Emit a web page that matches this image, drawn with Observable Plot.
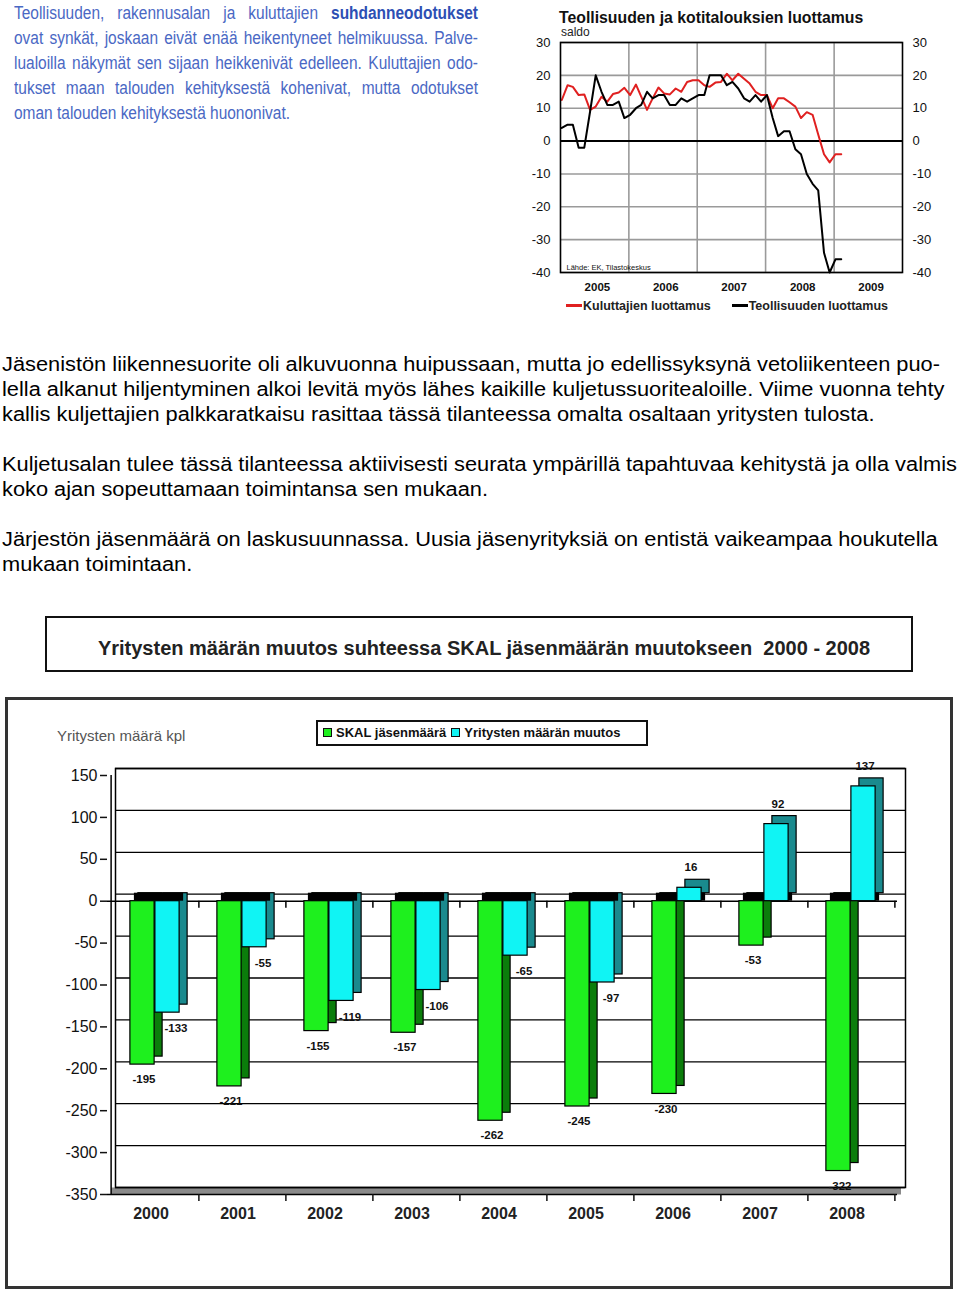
<!DOCTYPE html>
<html><head><meta charset="utf-8">
<script src="https://cdn.jsdelivr.net/npm/d3@7"></script>
<script src="https://cdn.jsdelivr.net/npm/@observablehq/plot@0.6"></script>
<style>
html,body{margin:0;padding:0;background:#fff}
body{width:960px;height:1292px;position:relative;overflow:hidden;font-family:"Liberation Sans",Arial,sans-serif}
.abs{position:absolute}
#intro{left:14px;top:1px;width:525px;transform:scaleX(0.8838);transform-origin:0 0;font-family:"Liberation Sans",Arial,sans-serif;font-size:17.5px;line-height:25px;color:#4a68c4}
#intro div{text-align:justify;text-align-last:justify;white-space:nowrap}
#intro div.last{text-align-last:left}
#intro b{color:#2d4fb4}
.para{left:2px;font-size:19.5px;line-height:25px;color:#000;white-space:nowrap;transform:scaleX(1.118);transform-origin:0 0}
#lcTitle{left:559px;top:9px;font-size:15.8px;font-weight:bold;color:#111;white-space:nowrap}
#lcSub{left:561px;top:25px;font-size:12px;color:#222}
#lcLegend{left:566px;top:299px;font-size:12.5px;font-weight:bold;color:#222;white-space:nowrap}
#lcLegend span.sw{display:inline-block;width:16px;height:2.5px;vertical-align:middle;margin-right:1px;position:relative;top:-1px}
#titleBox{left:45px;top:616px;width:864px;height:52px;border:2px solid #111;text-align:center;line-height:60px;font-size:20px;font-weight:bold;color:#222;white-space:nowrap}
#titleBox span{position:relative;left:5px}
#frame{left:5px;top:697px;width:942px;height:586px;border:3px solid #333}
#ylab{left:57px;top:727px;font-size:15px;color:#555}
#legend{left:316px;top:720px;width:328px;height:22px;border:2px solid #111;font-size:13px;font-weight:bold;color:#111;line-height:22px;white-space:nowrap;background:#fff}
#legend .sq{display:inline-block;width:7px;height:7px;border:1px solid #111;margin:0 4px 0 5px;position:relative;top:0px}
</style></head><body>

<div id="intro" class="abs">
<div>Teollisuuden, rakennusalan ja kuluttajien <b>suhdanneodotukset</b></div>
<div>ovat synkät, joskaan eivät enää heikentyneet helmikuussa. Palve-</div>
<div>lualoilla näkymät sen sijaan heikkenivät edelleen. Kuluttajien odo-</div>
<div>tukset maan talouden kehityksestä kohenivat, mutta odotukset</div>
<div class="last">oman talouden kehityksestä huononivat.</div>
</div>

<div id="lcTitle" class="abs">Teollisuuden ja kotitalouksien luottamus</div>
<div id="lcSub" class="abs">saldo</div>
<div id="lc" class="abs" style="left:520px;top:0px"></div>
<div id="lcLegend" class="abs"><span class="sw" style="background:#e02020"></span>Kuluttajien luottamus&nbsp;&nbsp;&nbsp;&nbsp;&nbsp;&nbsp;<span class="sw" style="background:#000"></span>Teollisuuden luottamus</div>

<div class="abs para" style="top:352px">Jäsenistön liikennesuorite oli alkuvuonna huipussaan, mutta jo edellissyksynä vetoliikenteen puo-<br>lella alkanut hiljentyminen alkoi levitä myös lähes kaikille kuljetussuoritealoille. Viime vuonna tehty<br>kallis kuljettajien palkkaratkaisu rasittaa tässä tilanteessa omalta osaltaan yritysten tulosta.</div>
<div class="abs para" style="top:452px">Kuljetusalan tulee tässä tilanteessa aktiivisesti seurata ympärillä tapahtuvaa kehitystä ja olla valmis<br>koko ajan sopeuttamaan toimintansa sen mukaan.</div>
<div class="abs para" style="top:527px">Järjestön jäsenmäärä on laskusuunnassa. Uusia jäsenyrityksiä on entistä vaikeampaa houkutella<br>mukaan toimintaan.</div>

<div id="titleBox" class="abs"><span>Yritysten määrän muutos suhteessa SKAL jäsenmäärän muutokseen&nbsp; 2000 - 2008</span></div>

<div id="frame" class="abs"></div>
<div id="bc" class="abs" style="left:0px;top:697px"></div>
<div id="ylab" class="abs">Yritysten määrä kpl</div>
<div id="legend" class="abs"><span class="sq" style="background:#1ef01e"></span>SKAL jäsenmäärä<span class="sq" style="background:#10f4f4"></span>Yritysten määrän muutos</div>

<script>
// ---------- Line chart data (monthly, Jan 2005 – Feb 2009) ----------
const lcStart = "2005-01-01";
const kuluttajat = [12.5,17,16.5,14,14.2,9.5,10.5,13.5,12,14.3,14.8,16.2,14,17.2,13.5,9.5,13,16.3,14.5,14.2,16,15,18,18.5,18.5,17,16.5,17.8,18,20.5,18.5,20.5,19,17.5,15,14,14,10,13,13,11.8,10.5,7,8.8,8,2,-4,-6.5,-4,-4];
const teollisuus = [4,5,5,-2,-2,9,20,15,11,11,12,7,8,10,11,15,13,14,14,11,11,13,12,13,14,14,20,20,20,17,18,16,13,12,14,12,14,7,1.5,3,3,-2.5,-4,-10,-13,-15,-34,-40,-36,-36];
const lcYears = [2005,2006,2007,2008,2009];
const lcTicks = [30,20,10,0,-10,-20,-30,-40];

// ---------- Bar chart data ----------
const years = [2000,2001,2002,2003,2004,2005,2006,2007,2008];
const skal = [-195,-221,-155,-157,-262,-245,-230,-53,-322];
const firms = [-133,-55,-119,-106,-65,-97,16,92,137];
const yTicks = [150,100,50,0,-50,-100,-150,-200,-250,-300,-350];

const font = "Liberation Sans, Arial, sans-serif";

// Line chart
const start = new Date(lcStart);
const lcData = kuluttajat.map((v, i) => ({
  date: new Date(Date.UTC(start.getUTCFullYear(), start.getUTCMonth() + i, 8)),
  kul: v, teo: teollisuus[i]
}));
const yearStart = y => new Date(Date.UTC(y, 0, 1));
const yearMid = y => new Date(Date.UTC(y, 6, 1));

const lc = Plot.plot({
  width: 440, height: 320,
  marginLeft: 40, marginRight: 58, marginTop: 42, marginBottom: 48,
  x: {type: "utc", domain: [yearStart(lcYears[0]), yearStart(lcYears[lcYears.length - 1] + 1)], axis: null},
  y: {domain: [-40, 30], axis: null},
  style: {fontFamily: font, background: "transparent", color: "#111", overflow: "visible"},
  marks: [
    Plot.ruleX(lcYears.slice(1), {x: yearStart, stroke: "#9a9a9a", strokeWidth: 1.6, strokeOpacity: 1}),
    Plot.ruleY(lcTicks, {stroke: "#9a9a9a", strokeWidth: 1.6, strokeOpacity: 1}),
    Plot.ruleY([0], {stroke: "#000", strokeWidth: 2}),
    Plot.line(lcData, {x: "date", y: "kul", stroke: "#e02020", strokeWidth: 2}),
    Plot.line(lcData, {x: "date", y: "teo", stroke: "#000", strokeWidth: 2}),
    Plot.frame({stroke: "#000", strokeWidth: 1.6}),
    Plot.axisY(lcTicks, {anchor: "left", tickSize: 0, tickPadding: 10, fontSize: 13, label: null, tickFormat: d => String(d)}),
    Plot.axisY(lcTicks, {anchor: "right", tickSize: 0, tickPadding: 10, fontSize: 13, label: null, tickFormat: d => String(d)}),
    Plot.axisX(lcYears.map(yearMid), {anchor: "bottom", tickSize: 0, tickPadding: 10, dx: 3, fontSize: 11.5, fontWeight: "bold", tickFormat: d => String(d.getUTCFullYear()), label: null}),
    Plot.text(["Lähde: EK, Tilastokeskus"], {frameAnchor: "bottom-left", textAnchor: "start", lineAnchor: "bottom", dx: 6, dy: -3, fontSize: 7.5})
  ]
});
document.getElementById("lc").appendChild(lc);

// Bar chart
const table = years.map((y, i) => ({year: y, skal: skal[i], firms: firms[i]}));
const W = 960, H = 595, mL = 107, mR = 63;
const half = (W - mL - mR) / years.length / 2;
const barW = 25, depthX = 8, depthY = -8;

const bc = Plot.plot({
  width: W, height: H,
  marginLeft: mL, marginRight: mR, marginTop: 78, marginBottom: 98,
  x: {type: "band", domain: years, padding: 0, axis: null},
  y: {domain: [-350, 150], axis: null},
  style: {fontFamily: font, background: "transparent", color: "#111", overflow: "visible"},
  marks: [
    // floor of the 3D box
    Plot.ruleY([-350], {stroke: "#8a8a8a", strokeWidth: 7, dx: 4, dy: -3.5}),
    // back-wall gridlines and box
    Plot.ruleY(yTicks, {stroke: "#000", strokeWidth: 1.3, dx: 8, dy: -7}),
    Plot.frame({stroke: "#000", strokeWidth: 1.5, dx: 8, dy: -7}),
    // zero plane (front edge) and its category ticks
    Plot.ruleY([0], {stroke: "#000", strokeWidth: 1.5}),
    Plot.ruleX(years, {x: d => d, y1: 0, y2: 0, insetBottom: -7, dx: half, stroke: "#000", strokeWidth: 1.5}),
    // depth faces
    Plot.barY(table, {x: "year", y: "skal", fill: "#0b7d0b", stroke: "#000", strokeWidth: 1.2, insetLeft: half - barW, insetRight: half, dx: depthX, dy: depthY}),
    Plot.barY(table, {x: "year", y: "firms", fill: "#1a8a8e", stroke: "#000", strokeWidth: 1.2, insetLeft: half, insetRight: half - barW, dx: depthX, dy: depthY}),
    // black top faces at the zero plane
    Plot.barY(table, {x: "year", y1: 0, y2: 0, fill: "#000", insetLeft: half - barW, insetRight: half - barW, insetTop: depthY, dx: depthX / 2}),
    // front faces
    Plot.barY(table, {x: "year", y: "skal", fill: "#1ef01e", stroke: "#000", strokeWidth: 1.2, insetLeft: half - barW, insetRight: half}),
    Plot.barY(table, {x: "year", y: "firms", fill: "#10f4f4", stroke: "#000", strokeWidth: 1.2, insetLeft: half, insetRight: half - barW}),
    // axes
    Plot.ruleY([-350], {stroke: "#000", strokeWidth: 1.5}),
    Plot.ruleX([years[0]], {dx: -half, y1: -350, y2: 150, stroke: "#000", strokeWidth: 1.5}),
    Plot.axisY(yTicks, {anchor: "left", tickSize: 7, tickPadding: 3, fontSize: 16, label: null, strokeWidth: 1.5, tickFormat: d => String(d)}),
    Plot.axisX({anchor: "bottom", tickSize: 7, tickFormat: () => "", dx: half, strokeWidth: 1.5, label: null}),
    Plot.axisX({anchor: "bottom", tickSize: 0, tickPadding: 13, dx: -4, fontSize: 16, fontWeight: "bold", label: null, fill: "#222", tickFormat: d => String(d)}),
    // value labels
    Plot.text(table, {x: "year", y: "skal", text: d => String(d.skal), dx: -11, dy: 15, fontSize: 11.5, fontWeight: "bold"}),
    Plot.text(table.filter(d => d.firms < 0), {x: "year", y: "firms", text: d => String(d.firms), dx: 21, dy: 16, fontSize: 11.5, fontWeight: "bold"}),
    Plot.text(table.filter(d => d.firms >= 0), {x: "year", y: "firms", text: d => String(d.firms), dx: 14, dy: -20, fontSize: 11.5, fontWeight: "bold"})
  ]
});
document.getElementById("bc").appendChild(bc);
</script>
</body></html>
